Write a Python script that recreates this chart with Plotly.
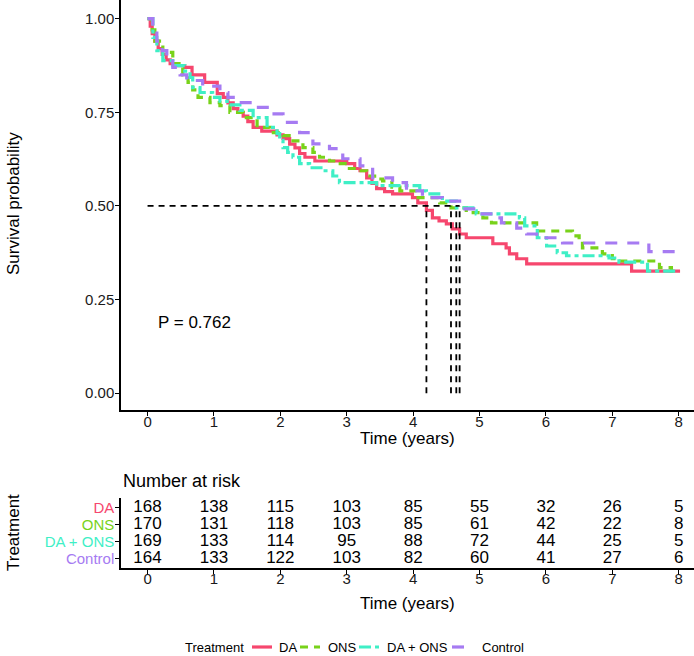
import plotly.graph_objects as go

# ---------------- data ----------------
groups = ["DA", "ONS", "DA + ONS", "Control"]
colors = ["#F6476E", "#78D21A", "#3FEFC6", "#A67BF2"]
dashes = ["solid", "8px,6px", "12px,4px,4px,4px", "12px,10px"]

da_steps = [(0, 1.0), (0.04, 0.98), (0.07, 0.96), (0.11, 0.94), (0.16, 0.92), (0.22, 0.905),
            (0.28, 0.89), (0.34, 0.88), (0.46, 0.875), (0.56, 0.87), (0.67, 0.85), (0.86, 0.83),
            (1.05, 0.80), (1.14, 0.79), (1.21, 0.775), (1.29, 0.76), (1.36, 0.75), (1.44, 0.74),
            (1.51, 0.725), (1.59, 0.71), (1.72, 0.70), (1.95, 0.69), (2.04, 0.68), (2.14, 0.665),
            (2.22, 0.655), (2.29, 0.64), (2.37, 0.63), (2.52, 0.62), (3.0, 0.613), (3.12, 0.60),
            (3.20, 0.594), (3.30, 0.575), (3.38, 0.56), (3.45, 0.546), (3.57, 0.538), (3.69, 0.532),
            (3.99, 0.522), (4.07, 0.508), (4.20, 0.488), (4.29, 0.468), (4.39, 0.46), (4.50, 0.452),
            (4.59, 0.439), (4.70, 0.425), (4.80, 0.415), (5.20, 0.399), (5.40, 0.388), (5.45, 0.372),
            (5.56, 0.359), (5.71, 0.345), (7.29, 0.326), (8.02, 0.326)]

ons_steps = [(0, 1.0), (0.07, 0.97), (0.11, 0.94), (0.23, 0.91), (0.38, 0.88), (0.53, 0.85),
             (0.61, 0.83), (0.68, 0.81), (0.76, 0.79), (0.94, 0.776), (1.09, 0.768), (1.24, 0.75),
             (1.44, 0.736), (1.65, 0.71), (1.84, 0.696), (2.04, 0.688), (2.19, 0.674), (2.34, 0.656),
             (2.49, 0.643), (2.59, 0.63), (2.74, 0.62), (2.85, 0.613), (3.0, 0.60), (3.15, 0.594),
             (3.30, 0.58), (3.42, 0.572), (3.54, 0.567), (3.68, 0.55), (3.80, 0.54), (4.05, 0.522),
             (4.40, 0.508), (4.57, 0.495), (4.80, 0.482), (5.05, 0.468), (5.18, 0.455), (5.86, 0.433),
             (6.40, 0.42), (6.50, 0.407), (6.55, 0.388), (6.85, 0.372), (7.0, 0.359), (7.1, 0.353),
             (7.71, 0.335), (7.89, 0.326), (7.96, 0.326)]

daons_steps = [(0, 1.0), (0.08, 0.95), (0.14, 0.915), (0.23, 0.888), (0.38, 0.875), (0.56, 0.86),
               (0.64, 0.843), (0.68, 0.816), (0.79, 0.803), (0.98, 0.79), (1.09, 0.78), (1.20, 0.77),
               (1.39, 0.755), (1.59, 0.736), (1.80, 0.71), (1.95, 0.693), (1.99, 0.675), (2.04, 0.656),
               (2.11, 0.643), (2.19, 0.63), (2.29, 0.613), (2.44, 0.602), (2.64, 0.594), (2.79, 0.58),
               (2.89, 0.562), (3.45, 0.554), (4.10, 0.54), (4.20, 0.532), (4.44, 0.513), (4.65, 0.495),
               (4.90, 0.487), (4.95, 0.479), (5.60, 0.468), (5.68, 0.447), (5.87, 0.415), (6.01, 0.393),
               (6.17, 0.375), (6.31, 0.367), (6.95, 0.361), (7.10, 0.35), (7.53, 0.326), (7.98, 0.326)]

control_steps = [(0, 1.0), (0.08, 0.97), (0.14, 0.94), (0.22, 0.915), (0.29, 0.896), (0.38, 0.87),
                 (0.49, 0.85), (0.59, 0.835), (0.83, 0.82), (1.09, 0.803), (1.21, 0.79), (1.29, 0.776),
                 (1.59, 0.763), (1.84, 0.746), (2.04, 0.723), (2.29, 0.696), (2.49, 0.666), (2.74, 0.653),
                 (2.94, 0.626), (3.20, 0.607), (3.39, 0.575), (3.69, 0.562), (3.90, 0.54), (4.14, 0.522),
                 (4.44, 0.513), (4.70, 0.492), (5.0, 0.479), (5.25, 0.468), (5.33, 0.455), (5.56, 0.441),
                 (5.71, 0.425), (5.86, 0.415), (6.25, 0.401), (7.55, 0.378), (8.02, 0.378)]

medians = [4.20, 4.57, 4.65, 4.70]
p_value_text = "P = 0.762"

risk_times = [0, 1, 2, 3, 4, 5, 6, 7, 8]
risk_da = [168, 138, 115, 103, 85, 55, 32, 26, 5]
risk_ons = [170, 131, 118, 103, 85, 61, 42, 22, 8]
risk_daons = [169, 133, 114, 95, 88, 72, 44, 25, 5]
risk_control = [164, 133, 122, 103, 82, 60, 41, 27, 6]

y_ticks = [0, 0.25, 0.5, 0.75, 1.0]
y_ticktext = ["0.00", "0.25", "0.50", "0.75", "1.00"]

# ---------------- figure ----------------
W, H = 694, 656
FONT = "Liberation Sans, Arial, sans-serif"
fig = go.Figure()

steps_all = [da_steps, ons_steps, daons_steps, control_steps]
for name, col, dsh, steps in zip(groups, colors, dashes, steps_all):
    fig.add_trace(go.Scatter(
        x=[t for t, s in steps], y=[s for t, s in steps], mode="lines", name=name,
        line=dict(color=col, width=3.2, dash=dsh, shape="hv"),
        xaxis="x", yaxis="y", showlegend=False))

# median lines
fig.add_trace(go.Scatter(x=[0, max(medians)], y=[0.5, 0.5], mode="lines",
                         line=dict(color="black", width=1.8, dash="6px,5px"),
                         showlegend=False, hoverinfo="skip", xaxis="x", yaxis="y"))
for m in medians:
    fig.add_trace(go.Scatter(x=[m, m], y=[0, 0.5], mode="lines",
                             line=dict(color="black", width=1.8, dash="6px,5px"),
                             showlegend=False, hoverinfo="skip", xaxis="x", yaxis="y"))

# risk table
risk_rows = [risk_da, risk_ons, risk_daons, risk_control]
row_pos = [4, 3, 2, 1]
for vals, yp in zip(risk_rows, row_pos):
    fig.add_trace(go.Scatter(x=risk_times, y=[yp] * len(risk_times), mode="text",
                             text=[str(v) for v in vals],
                             textfont=dict(family=FONT, size=17, color="black"),
                             showlegend=False, hoverinfo="skip", xaxis="x2", yaxis="y2"))

def px_x(p):
    return p / W

def px_y(p):
    return 1 - p / H

xdom = [px_x(121), 1.0]
axis_common = dict(showline=True, linecolor="black", linewidth=1.5, ticks="outside",
                   ticklen=4, tickwidth=1.2, tickcolor="black", showgrid=False, zeroline=False,
                   tickfont=dict(family=FONT, size=15, color="#1a1a1a"))

fig.update_layout(
    width=W, height=H, margin=dict(l=0, r=0, t=0, b=0),
    paper_bgcolor="white", plot_bgcolor="white",
    font=dict(family=FONT, color="black"), showlegend=False,
    xaxis=dict(domain=xdom, range=[-0.4, 8.23], tickvals=risk_times, anchor="y",
               ticklabelstandoff=-7, **axis_common),
    yaxis=dict(domain=[px_y(410), 1.0], range=[-0.045, 1.05], tickvals=y_ticks,
               ticktext=y_ticktext, anchor="x", ticklabelstandoff=-2, **axis_common),
    xaxis2=dict(domain=xdom, range=[-0.4, 8.23], tickvals=risk_times, anchor="y2",
                ticklabelstandoff=-8, **axis_common),
    yaxis2=dict(domain=[px_y(568.4), px_y(497.6)], range=[0.4, 4.6], tickvals=row_pos,
                ticktext=[f"<span style='color:{c}'>{g}</span>" for g, c in zip(groups, colors)],
                anchor="x2", ticklabelstandoff=-2, **axis_common),
)

annots = [
    dict(text="Survival probability", x=px_x(13), y=px_y(204), textangle=-90, font=dict(size=17)),
    dict(text="Time (years)", x=px_x(407), y=px_y(438), font=dict(size=17)),
    dict(text="Time (years)", x=px_x(407), y=px_y(603), font=dict(size=17)),
    dict(text="Treatment", x=px_x(13), y=px_y(533), textangle=-90, font=dict(size=17)),
    dict(text="Number at risk", x=px_x(121), y=px_y(481), xanchor="left", font=dict(size=18)),
]
for a in annots:
    a.setdefault("xanchor", "center")
    fig.add_annotation(xref="paper", yref="paper", showarrow=False, yanchor="middle",
                       font=dict(family=FONT, size=a["font"]["size"], color="black"),
                       **{k: v for k, v in a.items() if k != "font"})

fig.add_annotation(x=0.12, y=0.19, xref="x", yref="y", text=p_value_text, showarrow=False,
                   xanchor="left", yanchor="middle", font=dict(family=FONT, size=17, color="black"))

# custom legend (bottom)
LEG_Y = 647
fig.add_annotation(xref="paper", yref="paper", x=px_x(183), y=px_y(LEG_Y), text="Treatment",
                   showarrow=False, xanchor="left", yanchor="middle",
                   font=dict(family=FONT, size=13, color="black"))
leg_line_x = [252, 300, 359, 452]
leg_text_x = [277, 326, 385, 480]
leg_len = [20, 20, 21, 20]
for g, c, d, lx, tx, ln in zip(groups, colors, dashes, leg_line_x, leg_text_x, leg_len):
    fig.add_shape(type="line", xref="paper", yref="paper", x0=px_x(lx), x1=px_x(lx + ln),
                  y0=px_y(LEG_Y), y1=px_y(LEG_Y), line=dict(color=c, width=3.2, dash=d))
    fig.add_annotation(xref="paper", yref="paper", x=px_x(tx), y=px_y(LEG_Y), text=g,
                       showarrow=False, xanchor="left", yanchor="middle",
                       font=dict(family=FONT, size=13, color="black"))

fig.write_html("out.html", config={"displayModeBar": False},
               post_script="document.body.style.margin='0';")
